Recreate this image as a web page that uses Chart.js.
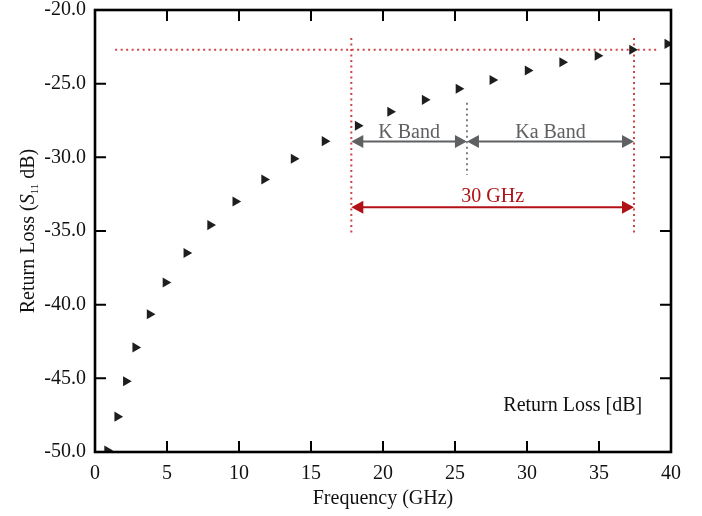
<!DOCTYPE html>
<html>
<head>
<meta charset="utf-8">
<script src="https://cdn.jsdelivr.net/npm/chart.js@4/dist/chart.umd.min.js"></script>
<style>
  html, body { margin: 0; padding: 0; background: #fff; }
  #wrap { width: 702px; height: 516px; }
</style>
</head>
<body>
<div id="wrap"><canvas id="c" width="702" height="516"></canvas></div>
<script>
// ---- data ----
const freqGHz = [0.85, 1.55, 2.15, 2.8, 3.8, 4.9, 6.35, 8.0, 9.75, 11.75, 13.8, 15.95,
                 18.25, 20.5, 22.9, 25.25, 27.6, 30.05, 32.45, 34.9, 37.3, 39.75];
const returnLossDB = [-49.9, -47.6, -45.2, -42.9, -40.65, -38.5, -36.5, -34.6, -33.0, -31.5, -30.1, -28.9,
                      -27.85, -26.9, -26.1, -25.35, -24.75, -24.1, -23.55, -23.1, -22.7, -22.3];
const xTicks = [0, 5, 10, 15, 20, 25, 30, 35, 40];
const yTicks = [-50, -45, -40, -35, -30, -25, -20];

// annotation values (data units)
const refLevelDB = -22.7;          // horizontal red dotted line
const refLineFrom = 1.4, refLineTo = 39.0;
const bandStart = 17.8, bandSplit = 25.83, bandEnd = 37.43;
const edgeLineTop = -21.9, edgeLineBottom = -35.3;
const splitLineTop = -26.3, splitLineBottom = -31.2;
const bandArrowDB = -28.93;
const spanArrowDB = -33.39;
const bandLabels = ['K Band', 'Ka Band'];
const spanLabel = '30 GHz';
const seriesLabel = 'Return Loss [dB]';
const seriesLabelPos = [38.0, -47.2];

const SERIF = '"Liberation Serif", "Times New Roman", serif';

function arrowHead(ctx, x, y, dir, len, half) {
  ctx.beginPath();
  ctx.moveTo(x, y);
  ctx.lineTo(x - dir * len, y - half);
  ctx.lineTo(x - dir * len, y + half);
  ctx.closePath();
  ctx.fill();
}
function dblArrow(ctx, x1, x2, y, color) {
  ctx.save();
  ctx.strokeStyle = color; ctx.fillStyle = color; ctx.lineWidth = 2;
  ctx.beginPath(); ctx.moveTo(x1 + 8, y); ctx.lineTo(x2 - 8, y); ctx.stroke();
  arrowHead(ctx, x1, y, -1, 12, 6.5);
  arrowHead(ctx, x2, y, 1, 12, 6.5);
  ctx.restore();
}

const annotations = {
  id: 'annotations',
  beforeDatasetsDraw(chart) {
    const ctx = chart.ctx, xs = chart.scales.x, ys = chart.scales.y;
    const X = v => xs.getPixelForValue(v), Y = v => ys.getPixelForValue(v);
    ctx.save();
    // red dotted lines
    ctx.strokeStyle = '#d04545'; ctx.lineWidth = 2; ctx.setLineDash([2, 3.5]);
    ctx.beginPath();
    ctx.moveTo(X(refLineFrom), Y(refLevelDB)); ctx.lineTo(X(refLineTo), Y(refLevelDB));
    [bandStart, bandEnd].forEach(b => { ctx.moveTo(X(b), Y(edgeLineTop)); ctx.lineTo(X(b), Y(edgeLineBottom)); });
    ctx.stroke();
    // grey dotted split line
    ctx.strokeStyle = '#555555'; ctx.lineWidth = 1.5; ctx.setLineDash([2, 3.5]);
    ctx.beginPath();
    ctx.moveTo(X(bandSplit), Y(splitLineTop)); ctx.lineTo(X(bandSplit), Y(splitLineBottom));
    ctx.stroke();
    ctx.setLineDash([]);
    // arrows
    dblArrow(ctx, X(bandStart), X(bandSplit), Y(bandArrowDB), '#5f6062');
    dblArrow(ctx, X(bandSplit), X(bandEnd), Y(bandArrowDB), '#5f6062');
    dblArrow(ctx, X(bandStart), X(bandEnd), Y(spanArrowDB), '#b01116');
    // labels
    ctx.font = '20px ' + SERIF; ctx.textAlign = 'center'; ctx.textBaseline = 'alphabetic';
    ctx.fillStyle = '#5f6062';
    ctx.fillText(bandLabels[0], (X(bandStart) + X(bandSplit)) / 2, Y(bandArrowDB) - 4);
    ctx.fillText(bandLabels[1], (X(bandSplit) + X(bandEnd)) / 2, Y(bandArrowDB) - 4);
    ctx.fillStyle = '#b01116';
    ctx.fillText(spanLabel, (X(bandStart) + X(bandEnd)) / 2, Y(spanArrowDB) - 5);
    ctx.fillStyle = '#111';
    ctx.textAlign = 'right';
    ctx.fillText(seriesLabel, X(seriesLabelPos[0]), Y(seriesLabelPos[1]));
    ctx.restore();
  },
  afterDraw(chart) {
    const ctx = chart.ctx, xs = chart.scales.x, ys = chart.scales.y, a = chart.chartArea;
    ctx.save();
    ctx.strokeStyle = '#000'; ctx.lineWidth = 2;
    ctx.beginPath();
    const TL = 11;
    xTicks.forEach(v => {
      const px = xs.getPixelForValue(v);
      if (v === xTicks[0] || v === xTicks[xTicks.length - 1]) return;
      ctx.moveTo(px, a.bottom); ctx.lineTo(px, a.bottom - TL);
      ctx.moveTo(px, a.top); ctx.lineTo(px, a.top + TL);
    });
    yTicks.forEach(v => {
      const py = ys.getPixelForValue(v);
      if (v === yTicks[0] || v === yTicks[yTicks.length - 1]) return;
      ctx.moveTo(a.left, py); ctx.lineTo(a.left + TL, py);
      ctx.moveTo(a.right, py); ctx.lineTo(a.right - TL, py);
    });
    ctx.stroke();
    ctx.lineWidth = 2.6;
    ctx.strokeRect(a.left, a.top, a.right - a.left, a.bottom - a.top);
    // y axis title with italic S and subscript 11
    const parts = [
      { t: 'Return Loss (', f: '20px ' + SERIF, dy: 0 },
      { t: 'S', f: 'italic 20px ' + SERIF, dy: 0 },
      { t: '11', f: '11px ' + SERIF, dy: 4 },
      { t: ' dB)', f: '20px ' + SERIF, dy: 0 }
    ];
    let total = 0;
    parts.forEach(p => { ctx.font = p.f; p.w = ctx.measureText(p.t).width; total += p.w; });
    ctx.translate(34, (a.top + a.bottom) / 2);
    ctx.rotate(-Math.PI / 2);
    ctx.fillStyle = '#111'; ctx.textAlign = 'left'; ctx.textBaseline = 'alphabetic';
    let cx = -total / 2;
    parts.forEach(p => { ctx.font = p.f; ctx.fillText(p.t, cx, p.dy); cx += p.w; });
    ctx.restore();
  }
};

new Chart(document.getElementById('c'), {
  type: 'scatter',
  data: {
    datasets: [{
      label: seriesLabel,
      data: freqGHz.map((f, i) => ({ x: f, y: returnLossDB[i] })),
      pointStyle: 'triangle',
      rotation: 90,
      pointRadius: 5.8,
      pointHoverRadius: 5.8,
      backgroundColor: '#1e1e1e',
      borderColor: '#1e1e1e',
      borderWidth: 0
    }]
  },
  options: {
    responsive: false,
    animation: false,
    events: [],
    layout: { padding: { top: 10, right: 31, left: 0, bottom: 0 } },
    plugins: { legend: { display: false }, tooltip: { enabled: false } },
    scales: {
      x: {
        type: 'linear', min: 0, max: 40,
        afterFit: s => { s.height = 64; s.paddingLeft = 0; s.paddingRight = 0; },
        afterBuildTicks: s => { s.ticks = xTicks.map(v => ({ value: v })); },
        grid: { display: false, drawTicks: false },
        border: { display: false },
        ticks: { padding: 12, color: '#111', font: { family: SERIF, size: 20, lineHeight: 1 }, maxRotation: 0,
                 callback: v => String(v) },
        title: { display: true, text: 'Frequency (GHz)', color: '#111',
                 font: { family: SERIF, size: 20, lineHeight: 1.2 }, padding: { top: 0, bottom: 5 } }
      },
      y: {
        type: 'linear', min: -50, max: -20,
        afterFit: s => { s.width = 95; s.paddingTop = 0; s.paddingBottom = 0; },
        afterBuildTicks: s => { s.ticks = yTicks.map(v => ({ value: v })); },
        grid: { display: false, drawTicks: false },
        border: { display: false },
        ticks: { padding: 9, color: '#111', font: { family: SERIF, size: 20, lineHeight: 1 },
                 callback: v => v.toFixed(1) }
      }
    }
  },
  plugins: [annotations]
});
</script>
</body>
</html>
